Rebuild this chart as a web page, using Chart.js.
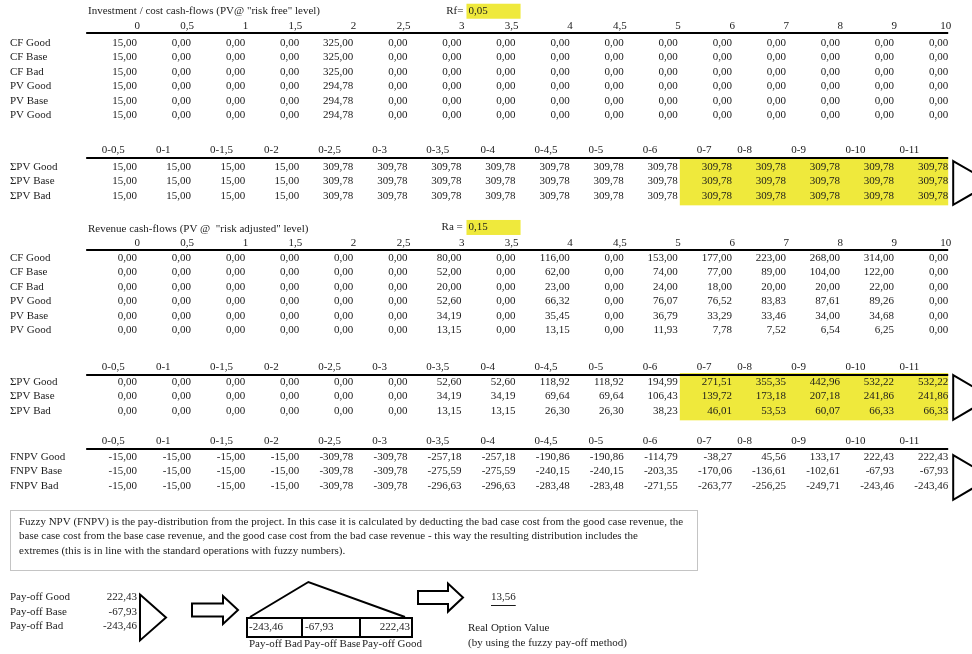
<!DOCTYPE html>
<html>
<head>
<meta charset="utf-8">
<title>Fuzzy pay-off</title>
<script src="https://cdn.jsdelivr.net/npm/chart.js@4.4.1/dist/chart.umd.min.js"></script>
<style>
	html, body { margin:0; padding:0; background:#fff; }
	#sheet { display:block; }
</style>
</head>
<body>
<canvas id="sheet" width="972" height="654"></canvas>
<script>
// column headings
const periods = ['0','0,5','1','1,5','2','2,5','3','3,5','4','4,5','5','6','7','8','9','10'];
const cumPeriods = ['0-0,5','0-1','0-1,5','0-2','0-2,5','0-3','0-3,5','0-4','0-4,5','0-5','0-6','0-7','0-8','0-9','0-10','0-11'];
const caseNames = ['CF Good','CF Base','CF Bad','PV Good','PV Base','PV Good'];
const sumNames = ['ΣPV Good','ΣPV Base','ΣPV Bad'];
const fnpvNames = ['FNPV Good','FNPV Base','FNPV Bad'];
const payoffNames = ['Pay-off Good','Pay-off Base','Pay-off Bad'];
const fuzzyNames = ['Pay-off Bad','Pay-off Base','Pay-off Good'];

const riskFree = '0,05';
const riskAdj = '0,15';

// investment / cost cash-flows
const costCfGood = [15,0,0,0,325,0,0,0,0,0,0,0,0,0,0,0];
const costCfBase = [15,0,0,0,325,0,0,0,0,0,0,0,0,0,0,0];
const costCfBad  = [15,0,0,0,325,0,0,0,0,0,0,0,0,0,0,0];
const costPvGood = [15,0,0,0,294.78,0,0,0,0,0,0,0,0,0,0,0];
const costPvBase = [15,0,0,0,294.78,0,0,0,0,0,0,0,0,0,0,0];
const costPvBad  = [15,0,0,0,294.78,0,0,0,0,0,0,0,0,0,0,0];
const costSumGood = [15,15,15,15,309.78,309.78,309.78,309.78,309.78,309.78,309.78,309.78,309.78,309.78,309.78,309.78];
const costSumBase = [15,15,15,15,309.78,309.78,309.78,309.78,309.78,309.78,309.78,309.78,309.78,309.78,309.78,309.78];
const costSumBad  = [15,15,15,15,309.78,309.78,309.78,309.78,309.78,309.78,309.78,309.78,309.78,309.78,309.78,309.78];

// revenue cash-flows
const revCfGood = [0,0,0,0,0,0,80,0,116,0,153,177,223,268,314,0];
const revCfBase = [0,0,0,0,0,0,52,0,62,0,74,77,89,104,122,0];
const revCfBad  = [0,0,0,0,0,0,20,0,23,0,24,18,20,20,22,0];
const revPvGood = [0,0,0,0,0,0,52.60,0,66.32,0,76.07,76.52,83.83,87.61,89.26,0];
const revPvBase = [0,0,0,0,0,0,34.19,0,35.45,0,36.79,33.29,33.46,34.00,34.68,0];
const revPvBad  = [0,0,0,0,0,0,13.15,0,13.15,0,11.93,7.78,7.52,6.54,6.25,0];
const revSumGood = [0,0,0,0,0,0,52.60,52.60,118.92,118.92,194.99,271.51,355.35,442.96,532.22,532.22];
const revSumBase = [0,0,0,0,0,0,34.19,34.19,69.64,69.64,106.43,139.72,173.18,207.18,241.86,241.86];
const revSumBad  = [0,0,0,0,0,0,13.15,13.15,26.30,26.30,38.23,46.01,53.53,60.07,66.33,66.33];

// fuzzy NPV
const fnpvGood = [-15,-15,-15,-15,-309.78,-309.78,-257.18,-257.18,-190.86,-190.86,-114.79,-38.27,45.56,133.17,222.43,222.43];
const fnpvBase = [-15,-15,-15,-15,-309.78,-309.78,-275.59,-275.59,-240.15,-240.15,-203.35,-170.06,-136.61,-102.61,-67.93,-67.93];
const fnpvBad  = [-15,-15,-15,-15,-309.78,-309.78,-296.63,-296.63,-283.48,-283.48,-271.55,-263.77,-256.25,-249.71,-243.46,-243.46];

const payoffs = [222.43, -67.93, -243.46];
const fuzzyPoints = [-243.46, -67.93, 222.43];
const fuzzyLevels = [0, 1, 0];
const realOptionValue = 13.56;

const noteLines = [
	'Fuzzy NPV (FNPV) is the pay-distribution from the project. In this case it is calculated by deducting the bad case cost from the good case revenue, the',
	'base case cost from the base case revenue, and the good case cost from the bad case revenue - this way the resulting distribution includes the',
	'extremes (this is in line with the standard operations with fuzzy numbers).'
];

/**
 * row positions (one unit = one spreadsheet row)
 */
const ROW = 14.4;
const layout = {
	cost    : {title:0.78, head:1.8, first:3.0},
	costSum : {head:10.42, first:11.6},
	rev     : {title:15.9, head:16.87, first:17.92},
	revSum  : {head:25.49, first:26.53},
	fnpv    : {head:30.63, first:31.74},
	note    : {first:36.25},
	payoff  : {first:41.5}
};

const tables = [
	{key:'cost', names:caseNames, rows:[costCfGood,costCfBase,costCfBad,costPvGood,costPvBase,costPvBad], head:periods},
	{key:'costSum', names:sumNames, rows:[costSumGood,costSumBase,costSumBad], head:cumPeriods, mark:true, tri:[-6,9]},
	{key:'rev', names:caseNames, rows:[revCfGood,revCfBase,revCfBad,revPvGood,revPvBase,revPvBad], head:periods},
	{key:'revSum', names:sumNames, rows:[revSumGood,revSumBase,revSumBad], head:cumPeriods, mark:true, tri:[-7,9]},
	{key:'fnpv', names:fnpvNames, rows:[fnpvGood,fnpvBase,fnpvBad], head:cumPeriods, tri:[-2,14]}
];

const YELLOW = '#efe93c';
const INK = '#1b1b1b';
const FONT = '11px "Liberation Serif", "DejaVu Serif", serif';
const fmt = v => v.toFixed(2).replace('.', ',');

let datasets = [];
tables.forEach(t => {
	t.rows.forEach((vals, r) => {
		datasets.push({
			data: vals.map((v, i) => ({x:i, y:layout[t.key].first + r})),
			cells: vals,
			pointRadius: 0,
			xAxisID: 'x', yAxisID: 'y'
		});
	});
});
// pay-off values sit in the first value column
datasets.push({
	data: payoffs.map((v, r) => ({x:0, y:layout.payoff.first + r})),
	cells: payoffs,
	pointRadius: 0,
	xAxisID: 'x', yAxisID: 'y'
});
// fuzzy triangle
datasets.push({
	data: fuzzyPoints.map((v, i) => ({x:v, y:fuzzyLevels[i]})),
	showLine: true,
	borderColor: '#000',
	borderWidth: 2,
	pointRadius: 0,
	tension: 0,
	xAxisID: 'xf', yAxisID: 'yf'
});

const drawTri = (ctx, x0, y0, x1, y1) => {
	ctx.beginPath();
	ctx.moveTo(x0, y0);
	ctx.lineTo(x1, (y0 + y1) / 2);
	ctx.lineTo(x0, y1);
	ctx.closePath();
	ctx.stroke();
};

const drawArrow = (ctx, x0, cy, len) => {
	const head = 15, sh = 6.5, hh = 14;
	ctx.save();
	ctx.beginPath();
	ctx.moveTo(x0, cy - sh);
	ctx.lineTo(x0 + len - head, cy - sh);
	ctx.lineTo(x0 + len - head, cy - hh);
	ctx.lineTo(x0 + len, cy);
	ctx.lineTo(x0 + len - head, cy + hh);
	ctx.lineTo(x0 + len - head, cy + sh);
	ctx.lineTo(x0, cy + sh);
	ctx.closePath();
	ctx.fillStyle = '#fff';
	ctx.fill();
	ctx.stroke();
	ctx.restore();
};

const sheetPlugin = {
	id: 'sheet',
	beforeDatasetsDraw(chart) {
		const ctx = chart.ctx;
		const X = v => chart.scales.x.getPixelForValue(v);
		const Y = v => chart.scales.y.getPixelForValue(v);
		ctx.save();
		ctx.fillStyle = YELLOW;
		// rate input cells
		ctx.fillRect(X(6) + 5, Y(layout.cost.title) - 7.5, X(7) - X(6), 15);
		ctx.fillRect(X(6) + 5, Y(layout.rev.title) - 9, X(7) - X(6), 15);
		// highlighted tail of the cumulative tables
		tables.filter(t => t.mark).forEach(t => {
			const top = Y(layout[t.key].first) - 9;
			const bot = Y(layout[t.key].first + t.rows.length - 1) + 9.5;
			ctx.fillRect(X(10) + 2, top, X(15) - X(10) - 2, bot - top);
		});
		// note box
		const ny = Y(layout.note.first);
		ctx.strokeStyle = '#c4c4c4';
		ctx.lineWidth = 1;
		ctx.strokeRect(10.5, ny - 11.5, 687, 60);
		ctx.restore();
	},
	afterDatasetsDraw(chart) {
		const ctx = chart.ctx;
		const X = v => chart.scales.x.getPixelForValue(v);
		const Y = v => chart.scales.y.getPixelForValue(v);
		const XF = v => chart.scales.xf.getPixelForValue(v);
		const YF = v => chart.scales.yf.getPixelForValue(v);
		const labelX = X(-2.35);
		ctx.save();
		ctx.font = FONT;
		ctx.fillStyle = INK;
		ctx.strokeStyle = '#000';
		ctx.textBaseline = 'middle';

		// titles
		ctx.textAlign = 'left';
		ctx.fillText('Investment / cost cash-flows (PV@ "risk free" level)', X(-0.906), Y(layout.cost.title));
		ctx.fillText('Revenue cash-flows (PV @  "risk adjusted" level)', X(-0.906), Y(layout.rev.title));
		ctx.fillText(riskFree, X(6) + 7, Y(layout.cost.title));
		ctx.fillText(riskAdj, X(6) + 7, Y(layout.rev.title) - 1.5);
		ctx.textAlign = 'right';
		ctx.fillText('Rf=', X(6) + 2, Y(layout.cost.title));
		ctx.fillText('Ra = ', X(6) + 4, Y(layout.rev.title) - 1.5);

		tables.forEach(t => {
			const L = layout[t.key];
			// headings
			t.head.forEach((h, i) => {
				if (t.head === periods) {
					ctx.textAlign = 'right';
					ctx.fillText(h, X(i) + 3, Y(L.head));
				} else {
					ctx.textAlign = 'left';
					ctx.fillText(h, X(i - (i >= 12 ? 0.9 : 0.65)), Y(L.head));
				}
			});
			// thick rule under headings
			ctx.lineWidth = 2;
			ctx.beginPath();
			const ry = Math.round(Y(L.head) + 7.5);
			ctx.moveTo(X(-0.94), ry);
			ctx.lineTo(X(15), ry);
			ctx.stroke();
			// row names
			ctx.textAlign = 'left';
			t.names.forEach((n, r) => ctx.fillText(n, labelX, Y(L.first + r)));
			// side triangle
			if (t.tri) {
				ctx.lineWidth = 2;
				drawTri(ctx, X(15) + 5, Y(L.first) + t.tri[0], X(15) + 43, Y(L.first + t.rows.length - 1) + t.tri[1]);
			}
		});

		// cell values, placed by the scatter elements
		ctx.textAlign = 'right';
		chart.data.datasets.forEach((ds, i) => {
			if (!ds.cells) return;
			chart.getDatasetMeta(i).data.forEach((el, j) => {
				ctx.fillText(fmt(ds.cells[j]), el.x, el.y);
			});
		});

		// note text
		ctx.textAlign = 'left';
		ctx.font = '11px "Liberation Serif", serif';
		noteLines.forEach((s, k) => ctx.fillText(s, 19, Y(layout.note.first + k)));
		ctx.font = FONT;

		// pay-off block
		const P = layout.payoff.first;
		payoffNames.forEach((n, r) => ctx.fillText(n, labelX, Y(P + r)));
		ctx.lineWidth = 2;
		drawTri(ctx, X(0) + 3, Y(P) - 3, X(0) + 29, Y(P + 2) + 14);
		drawArrow(ctx, 192, Y(P + 1) - 2, 46);
		drawArrow(ctx, 418, Y(P), 45);

		// fuzzy number cells under the triangle
		const bx0 = XF(fuzzyPoints[0]) - 3, bx1 = XF(fuzzyPoints[2]) + 7;
		const by0 = YF(0) + 1, by1 = YF(0) + 20;
		const div1 = bx0 + 55, div2 = bx0 + 113;
		ctx.lineWidth = 2;
		ctx.strokeRect(bx0, by0, bx1 - bx0, by1 - by0);
		ctx.beginPath();
		ctx.moveTo(div1, by0); ctx.lineTo(div1, by1);
		ctx.moveTo(div2, by0); ctx.lineTo(div2, by1);
		ctx.stroke();
		const by = (by0 + by1) / 2;
		ctx.fillStyle = INK;
		ctx.textAlign = 'left';
		ctx.fillText(fmt(fuzzyPoints[0]), bx0 + 2, by);
		ctx.fillText(fmt(fuzzyPoints[1]), div1 + 3, by);
		ctx.textAlign = 'right';
		ctx.fillText(fmt(fuzzyPoints[2]), bx1 - 2, by);
		ctx.textAlign = 'left';
		const cellEdges = [bx0, div1, div2, bx1 + 60];
		fuzzyNames.forEach((n, k) => {
			ctx.save();
			ctx.beginPath();
			ctx.rect(cellEdges[k], by1, cellEdges[k + 1] - cellEdges[k], 16);
			ctx.clip();
			ctx.fillText(n, cellEdges[k] + 2, by1 + 7);
			ctx.restore();
		});

		// result
		const rov = fmt(realOptionValue);
		ctx.fillText(rov, 491, Y(P));
		const w = ctx.measureText(rov).width;
		ctx.lineWidth = 1;
		ctx.beginPath();
		ctx.moveTo(491, Math.round(Y(P) + 7) + 0.5);
		ctx.lineTo(491 + w, Math.round(Y(P) + 7) + 0.5);
		ctx.strokeStyle = INK;
		ctx.stroke();
		ctx.fillText('Real Option Value', 468, Y(P + 2) + 2);
		ctx.fillText('(by using the fuzzy pay-off method)', 468, Y(P + 3) + 2);
		ctx.restore();
	}
};

const hidden = {display:false, bounds:'data', grid:{display:false}, ticks:{display:false}};

const sheet = new Chart(document.getElementById('sheet'), {
	type: 'scatter',
	data: { datasets: datasets },
	options: {
		responsive: false,
		animation: false,
		events: [],
		layout: { padding: 0 },
		plugins: { legend:{display:false}, tooltip:{enabled:false} },
		scales: {
			x : Object.assign({type:'linear', position:'bottom', min:-2.5333, max:15.4401}, hidden),
			y : Object.assign({type:'linear', position:'left', min:0, max:654 / ROW, reverse:true}, hidden),
			xf: Object.assign({type:'linear', axis:'x', position:'top', min:-994.9, max:1926.7}, hidden),
			yf: Object.assign({type:'linear', axis:'y', position:'right', min:-1.057, max:17.63}, hidden)
		}
	},
	plugins: [sheetPlugin]
});
</script>
</body>
</html>
